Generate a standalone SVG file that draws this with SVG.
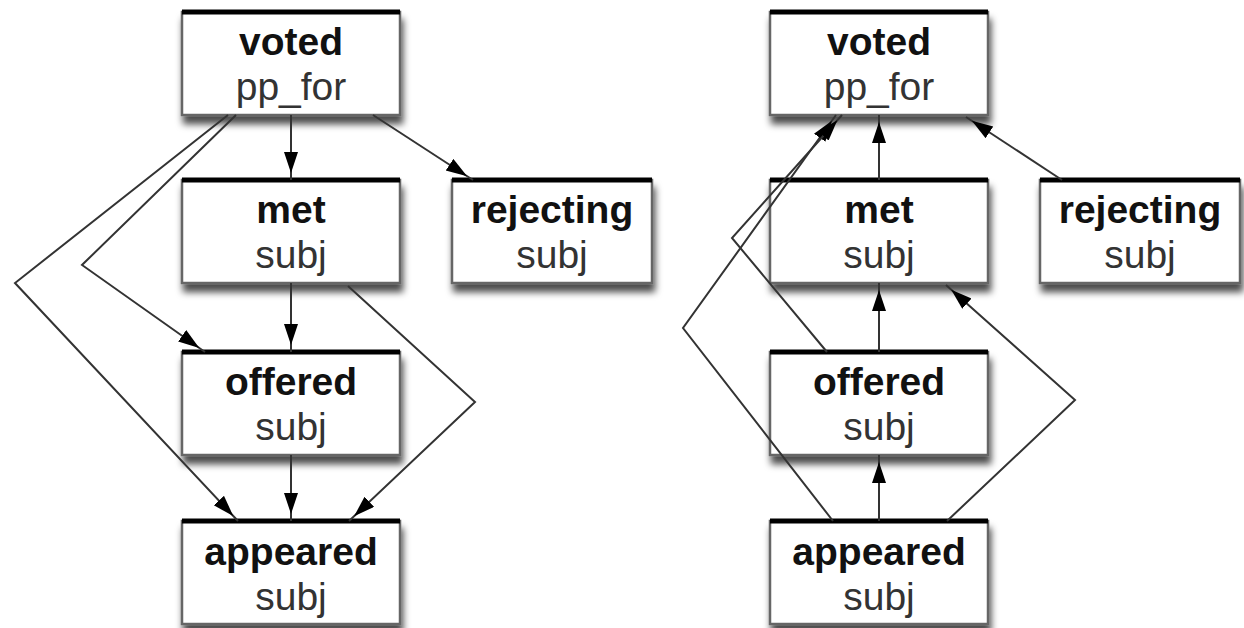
<svg xmlns="http://www.w3.org/2000/svg" width="1244" height="628" viewBox="0 0 1244 628">
<defs>
<filter id="sh" x="-10%" y="-10%" width="130%" height="140%">
<feDropShadow dx="2" dy="8" stdDeviation="3.5" flood-color="#000" flood-opacity="0.7"/>
</filter>
<marker id="ah" markerUnits="userSpaceOnUse" markerWidth="30" markerHeight="16" refX="28" refY="7" orient="auto">
<path d="M0,0 L21,7 L0,14 z" fill="#000"/>
</marker>
<style>
.box{fill:#fff;stroke:#666;stroke-width:2.5;filter:url(#sh)}
.top{stroke:#000;stroke-width:5}
.t1{font-family:"Liberation Sans",Arial,sans-serif;font-size:39px;font-weight:bold;fill:#111;text-anchor:middle}
.t2{font-family:"Liberation Sans",Arial,sans-serif;font-size:39px;fill:#333;text-anchor:middle}
.e{fill:none;stroke:#333;stroke-width:2;marker-end:url(#ah)}
</style>
</defs>
<rect width="1244" height="628" fill="#fff"/>
<g id="L-voted"><rect class="box" x="182" y="12" width="218" height="103"/><line class="top" x1="182" y1="12" x2="400" y2="12"/><text class="t1" x="291" y="55">voted</text><text class="t2" x="291" y="100">pp_for</text></g>
<g id="L-met"><rect class="box" x="182" y="180" width="218" height="103"/><line class="top" x1="182" y1="180" x2="400" y2="180"/><text class="t1" x="291" y="223">met</text><text class="t2" x="291" y="268">subj</text></g>
<g id="L-rejecting"><rect class="box" x="452" y="180" width="200" height="103"/><line class="top" x1="452" y1="180" x2="652" y2="180"/><text class="t1" x="552" y="223">rejecting</text><text class="t2" x="552" y="268">subj</text></g>
<g id="L-offered"><rect class="box" x="182" y="352" width="218" height="103"/><line class="top" x1="182" y1="352" x2="400" y2="352"/><text class="t1" x="291" y="395">offered</text><text class="t2" x="291" y="440">subj</text></g>
<g id="L-appeared"><rect class="box" x="182" y="521" width="218" height="103"/><line class="top" x1="182" y1="521" x2="400" y2="521"/><text class="t1" x="291" y="565">appeared</text><text class="t2" x="291" y="610">subj</text></g>
<g id="R-voted"><rect class="box" x="770" y="12" width="218" height="103"/><line class="top" x1="770" y1="12" x2="988" y2="12"/><text class="t1" x="879" y="55">voted</text><text class="t2" x="879" y="100">pp_for</text></g>
<g id="R-met"><rect class="box" x="770" y="180" width="218" height="103"/><line class="top" x1="770" y1="180" x2="988" y2="180"/><text class="t1" x="879" y="223">met</text><text class="t2" x="879" y="268">subj</text></g>
<g id="R-rejecting"><rect class="box" x="1040" y="180" width="200" height="103"/><line class="top" x1="1040" y1="180" x2="1240" y2="180"/><text class="t1" x="1140" y="223">rejecting</text><text class="t2" x="1140" y="268">subj</text></g>
<g id="R-offered"><rect class="box" x="770" y="352" width="218" height="103"/><line class="top" x1="770" y1="352" x2="988" y2="352"/><text class="t1" x="879" y="395">offered</text><text class="t2" x="879" y="440">subj</text></g>
<g id="R-appeared"><rect class="box" x="770" y="521" width="218" height="103"/><line class="top" x1="770" y1="521" x2="988" y2="521"/><text class="t1" x="879" y="565">appeared</text><text class="t2" x="879" y="610">subj</text></g>
<g id="connectors">
<path class="e" d="M291,115 L291,180"/>
<path class="e" d="M373,115 L473,180"/>
<path class="e" d="M236,115 L82,265 L205,352"/>
<path class="e" d="M228,115 L15,283 L238,521"/>
<path class="e" d="M291,283 L291,352"/>
<path class="e" d="M348,286 L475,402 L349,521"/>
<path class="e" d="M291,455 L291,521"/>
<path class="e" d="M879,180 L879,115"/>
<path class="e" d="M1062,180 L966,117"/>
<path class="e" d="M879,352 L879,283"/>
<path class="e" d="M879,521 L879,455"/>
<path class="e" d="M947,521 L1075,400 L946,285"/>
<path class="e" d="M833,521 L683,328 L836,115"/>
<path class="e" d="M827,352 L732,238 L842,115"/>
</g>
</svg>
